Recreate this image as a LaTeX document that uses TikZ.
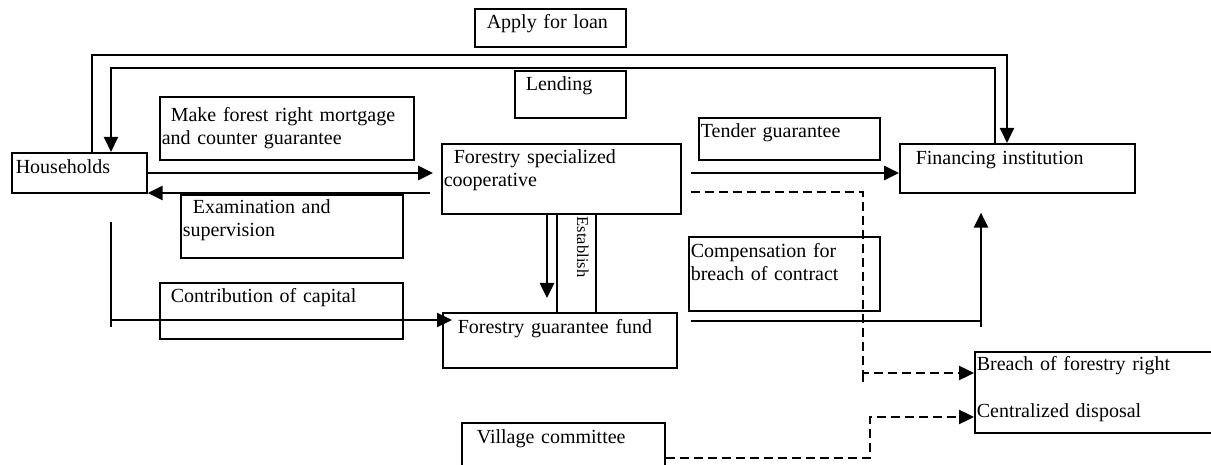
\documentclass[tikz,border=0pt]{standalone}
\usepackage{fontspec}
\setmainfont{Liberation Serif}
\usetikzlibrary{arrows.meta}

\begin{document}
\begin{tikzpicture}[x=1pt,y=-1pt,
  font=\fontsize{20}{22.5}\selectfont,
  box/.style={draw,line width=1.6pt,anchor=north west,inner xsep=2pt,inner ysep=0pt,align=left},
  flow/.style={line width=2.6pt,-{Triangle[length=15pt,width=14pt]}},
  loan/.style={line width=2pt,-{Triangle[length=15pt,width=14pt]}},
  dashflow/.style={line width=2.4pt,dash pattern=on 9pt off 5pt,-{Triangle[length=15pt,width=14pt]}}]
\useasboundingbox (0,0) rectangle (1211,465);

% draw nodes
\node[box,text width=131pt,text height=21pt,text depth=19pt] (hh) at (11,152) {\hspace*{2pt}Households};
\node[box,text width=235pt,text height=20pt,text depth=50pt] (fsc) at (441,143) {\hspace*{10pt}Forestry specialized\\cooperative};
\node[box,text width=231pt,text height=21pt,text depth=28pt] (fi) at (899,143) {\hspace*{14pt}Financing institution};
\node[box,text width=230pt,text height=21pt,text depth=34pt] (fund) at (442,312) {\hspace*{13pt}Forestry guarantee fund};
\node[box,text width=236pt,text height=19pt,text depth=62pt] (breach) at (974,351) {Breach of forestry right\\[24pt]Centralized disposal};
\node[box,text width=199pt,text height=21pt,text depth=29pt] (village) at (461,422) {\hspace*{13pt}Village committee};

% draw labels
\node[box,text width=147pt,text height=20pt,text depth=18pt] (apply) at (474,8) {\hspace*{10pt}Apply for loan};
\node[box,text width=107pt,text height=20pt,text depth=27pt] (lend) at (514,70) {\hspace*{9pt}Lending};
\node[box,text width=250pt,text height=25pt,text depth=38pt] (mortgage) at (159,96) {\hspace*{9pt}Make forest right mortgage\\and counter guarantee};
\node[box,text width=218pt,text height=19pt,text depth=44pt] (exam) at (180,194) {\hspace*{10pt}Examination and\\supervision};
\node[box,text width=177pt,text height=20pt,text depth=22pt] (tender) at (698,117) {Tender guarantee};
\node[box,text width=239pt,text height=20pt,text depth=36pt] (capital) at (159,282) {\hspace*{9pt}Contribution of capital};
\node[box,text width=187pt,text height=21pt,text depth=53pt] (comp) at (688,236) {Compensation for\\breach of contract};
\node[box,rotate=-90,text width=95pt,text height=19pt,text depth=20pt,font=\fontsize{16.5}{19}\selectfont] (est) at (597,213) {\hspace*{1pt}Establish};

% draw connectors
\draw[loan] (92,0 |- hh.north) |- (1007,55) -- (1007,0 |- fi.north);
\draw[loan] (995,0 |- fi.north) |- (111,68) -- (111,0 |- hh.north);

\draw[flow,shorten >=8pt] (hh.east |- 0,173) -- (fsc.west |- 0,173);
\draw[flow,shorten <=11pt] (fsc.west |- 0,193) -- (hh.east |- 0,193);
\draw[flow,shorten <=9pt] (fsc.east |- 0,173) -- (fi.west |- 0,173);
\draw[flow,shorten >=14pt] (547,0 |- fsc.south) -- (547,0 |- fund.north);

\draw[flow,line width=2.2pt,shorten <=28pt,shorten >=-10pt] (111,0 |- hh.south) |- (fund.west |- 0,320);
\draw[line width=2.2pt] (111,320) -- (111,327);
\draw[flow,shorten <=13pt,shorten >=19pt] (fund.east |- 0,321) -| (981,0 |- fi.south);
\draw[line width=2.6pt] (981,321) -- (981,327);

% dashed connectors
\draw[dashflow,shorten <=9pt] (fsc.east |- 0,192) -| (863,373) -- (breach.west |- 0,373);
\draw[line width=2.4pt,dash pattern=on 9pt off 5pt] (863,373) -- (863,383);
\draw[dashflow] (village.east |- 0,458) -| (870,417) -- (breach.west |- 0,417);

\end{tikzpicture}
\end{document}
